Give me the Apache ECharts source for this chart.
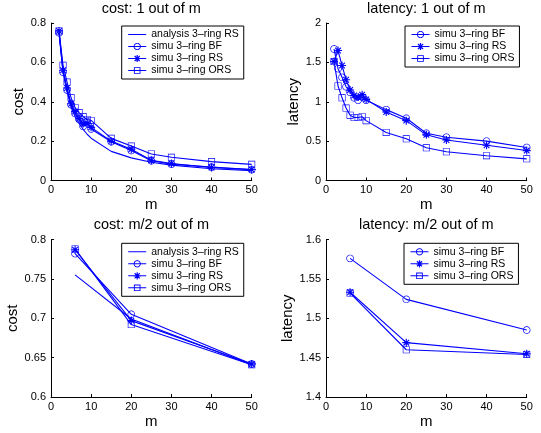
<!DOCTYPE html>
<html>
<head>
<meta charset="utf-8">
<script src="https://cdn.jsdelivr.net/npm/echarts@6/dist/echarts.min.js"></script>
<style>
  html, body { margin: 0; padding: 0; background: #fff; }
  #chart { width: 541px; height: 433px; }
</style>
</head>
<body>
<div id="chart"></div>
<script>
// Number of nodes m
const M_ALL = [2, 3, 4, 5, 6, 7, 8, 9, 10, 15, 20, 25, 30, 40, 50];
const M_HALF = [6, 20, 50];

// cost: 1 out of m
const COST1_ANALYSIS = [0.75, 0.55, 0.45, 0.375, 0.325, 0.29, 0.26, 0.235, 0.215, 0.148, 0.115, 0.093, 0.078, 0.06, 0.05];
const COST1_BF  = [0.75, 0.55, 0.46, 0.385, 0.34, 0.31, 0.275, 0.30, 0.262, 0.197, 0.152, 0.10, 0.083, 0.068, 0.055];
const COST1_RS  = [0.76, 0.56, 0.47, 0.39, 0.35, 0.315, 0.29, 0.29, 0.27, 0.20, 0.159, 0.103, 0.086, 0.066, 0.056];
const COST1_ORS = [0.76, 0.585, 0.50, 0.42, 0.37, 0.345, 0.325, 0.31, 0.305, 0.214, 0.175, 0.135, 0.118, 0.096, 0.082];

// latency: 1 out of m
const LAT1_BF  = [1.67, 1.42, 1.31, 1.19, 1.12, 1.05, 1.02, 1.06, 1.02, 0.90, 0.79, 0.60, 0.55, 0.50, 0.42];
const LAT1_RS  = [1.51, 1.65, 1.46, 1.28, 1.15, 1.08, 1.06, 1.09, 1.03, 0.87, 0.76, 0.58, 0.515, 0.447, 0.38];
const LAT1_ORS = [1.51, 1.20, 1.05, 0.92, 0.83, 0.80, 0.80, 0.81, 0.76, 0.61, 0.53, 0.415, 0.365, 0.315, 0.275];

// cost: m/2 out of m
const COSTH_ANALYSIS = [0.755, 0.699, 0.641];
const COSTH_BF  = [0.782, 0.705, 0.642];
const COSTH_RS  = [0.787, 0.697, 0.642];
const COSTH_ORS = [0.788, 0.692, 0.641];

// latency: m/2 out of m
const LATH_BF  = [1.576, 1.524, 1.485];
const LATH_RS  = [1.533, 1.469, 1.455];
const LATH_ORS = [1.532, 1.460, 1.454];

// Panel titles and series names
const TITLES = ['cost: 1 out of m', 'latency: 1 out of m', 'cost: m/2 out of m', 'latency: m/2 out of m'];
const NAME_AN  = 'analysis 3\u2013ring RS';
const NAME_BF  = 'simu 3\u2013ring BF';
const NAME_RS  = 'simu 3\u2013ring RS';
const NAME_ORS = 'simu 3\u2013ring ORS';

const BLUE = '#0000ff';
const FONT = '"Liberation Sans", Arial, Helvetica, sans-serif';

// ---- Marker outlines built as filled SVG paths (hollow markers, thin strokes) ----
function area(pts) {
  let s = 0;
  for (let i = 0; i < pts.length; i++) {
    const a = pts[i], b = pts[(i + 1) % pts.length];
    s += a[0] * b[1] - b[0] * a[1];
  }
  return s;
}
function poly(pts, sign) {
  if (Math.sign(area(pts)) !== sign) pts = pts.slice().reverse();
  return 'M' + pts.map(p => p[0].toFixed(3) + ',' + p[1].toFixed(3)).join('L') + 'Z';
}
function circlePts(cx, cy, r, n) {
  const pts = [];
  for (let k = 0; k < n; k++) {
    const t = 2 * Math.PI * k / n;
    pts.push([cx + r * Math.cos(t), cy + r * Math.sin(t)]);
  }
  return pts;
}
function rectPts(cx, cy, h) {
  return [[cx - h, cy - h], [cx + h, cy - h], [cx + h, cy + h], [cx - h, cy + h]];
}
function ringCircle(cx, cy, r, t) {
  return poly(circlePts(cx, cy, r, 36), 1) + poly(circlePts(cx, cy, r - t, 36), -1);
}
function ringSquare(cx, cy, h, t) {
  return poly(rectPts(cx, cy, h), 1) + poly(rectPts(cx, cy, h - t), -1);
}
function asterisk(cx, cy, L, w) {
  let d = '';
  [0, 45, 90, 135].forEach(deg => {
    const a = deg * Math.PI / 180;
    const dx = Math.cos(a), dy = Math.sin(a), nx = -dy, ny = dx;
    d += poly([
      [cx + L * dx + w * nx, cy + L * dy + w * ny],
      [cx + L * dx - w * nx, cy + L * dy - w * ny],
      [cx - L * dx - w * nx, cy - L * dy - w * ny],
      [cx - L * dx + w * nx, cy - L * dy + w * ny]
    ], 1);
  });
  return d;
}

// Plot markers (unit boxes, scaled by symbolSize)
const SYM_CIRCLE = 'path://' + ringCircle(0, 0, 4, 0.7);
const SYM_SQUARE = 'path://' + ringSquare(0, 0, 4, 0.7);
const SYM_STAR   = 'path://' + asterisk(0, 0, 5, 0.7);

// Legend icons: 18x9 box, line across the middle with the marker on top
const IW = 18, IH = 9;
const BOX = 'M0,0L0,0Z M' + IW + ',' + IH + 'L' + IW + ',' + IH + 'Z ';
const BAR = poly([[0, 4], [IW, 4], [IW, 5], [0, 5]], 1);
const ICONS = {};
ICONS[NAME_AN]  = 'path://' + BOX + BAR;
ICONS[NAME_BF]  = 'path://' + BOX + BAR + ringCircle(9, 4.5, 3.6, 0.9);
ICONS[NAME_RS]  = 'path://' + BOX + BAR + asterisk(9, 4.5, 3.6, 0.6);
ICONS[NAME_ORS] = 'path://' + BOX + BAR + ringSquare(9, 4.5, 3.3, 0.9);

const STYLE = {};
STYLE[NAME_AN]  = { symbol: 'none', symbolSize: 0 };
STYLE[NAME_BF]  = { symbol: SYM_CIRCLE, symbolSize: 7.5 };
STYLE[NAME_RS]  = { symbol: SYM_STAR, symbolSize: 8 };
STYLE[NAME_ORS] = { symbol: SYM_SQUARE, symbolSize: 7 };

const zip = (xs, ys) => xs.map((x, i) => [x, ys[i]]);

function line(name, idx, xs, ys) {
  const s = STYLE[name];
  return {
    type: 'line', name: name,
    xAxisIndex: idx, yAxisIndex: idx,
    data: zip(xs, ys),
    symbol: s.symbol, symbolSize: s.symbolSize,
    showSymbol: s.symbol !== 'none', showAllSymbol: true,
    lineStyle: { color: BLUE, width: 1.1 },
    itemStyle: { color: BLUE, borderWidth: 0 },
    emphasis: { disabled: true },
    animation: false
  };
}

// Grid geometry of the 2x2 panels
const LEFTS = [51, 326, 51, 326];
const TOPS = [23, 23, 239.5, 239.5];
const W = 200.7, H = 157.5;

const Y_RANGES = [
  { min: 0, max: 0.8, interval: 0.2, name: 'cost' },
  { min: 0, max: 2, interval: 0.5, name: 'latency' },
  { min: 0.6, max: 0.8, interval: 0.05, name: 'cost' },
  { min: 1.4, max: 1.6, interval: 0.05, name: 'latency' }
];

const axisCommon = {
  axisLine: { show: true, onZero: false, lineStyle: { color: '#000', width: 1 } },
  axisTick: { show: true, inside: true, length: 3, lineStyle: { color: '#000', width: 1 } },
  splitLine: { show: false },
  axisLabel: { color: '#000', fontFamily: FONT, fontSize: 11 },
  nameTextStyle: { color: '#000', fontFamily: FONT, fontSize: 15 }
};

const grids = [], xAxes = [], yAxes = [], titles = [], legends = [];
for (let i = 0; i < 4; i++) {
  grids.push({ left: LEFTS[i], top: TOPS[i], width: W, height: H, containLabel: false });
  xAxes.push(Object.assign({}, axisCommon, {
    type: 'value', gridIndex: i, min: 0, max: 50, interval: 10,
    name: 'm', nameLocation: 'middle', nameGap: 17,
    axisLabel: Object.assign({}, axisCommon.axisLabel, { margin: 4 })
  }));
  const yr = Y_RANGES[i];
  yAxes.push(Object.assign({}, axisCommon, {
    type: 'value', gridIndex: i, min: yr.min, max: yr.max, interval: yr.interval,
    name: yr.name, nameLocation: 'middle', nameGap: 23,
    axisLabel: Object.assign({}, axisCommon.axisLabel, { margin: 5 })
  }));
  titles.push({
    text: TITLES[i], left: LEFTS[i] + W / 2, textAlign: 'center',
    top: TOPS[i] - 22, padding: 0,
    textStyle: { color: '#000', fontFamily: FONT, fontSize: 14.5, fontWeight: 'normal' }
  });
}

const withAnalysis = [NAME_AN, NAME_BF, NAME_RS, NAME_ORS];
const simOnly = [NAME_BF, NAME_RS, NAME_ORS];
const LEGEND_POS = [[121.7, 26], [405, 26], [121.7, 243.3], [404, 243.3]];
const LEGEND_DATA = [withAnalysis, simOnly, withAnalysis, simOnly];
for (let i = 0; i < 4; i++) {
  legends.push({
    orient: 'vertical', left: LEGEND_POS[i][0], top: LEGEND_POS[i][1],
    data: LEGEND_DATA[i].map(n => ({ name: n, icon: ICONS[n] })),
    itemWidth: IW, itemHeight: IH, itemGap: 0,
    itemStyle: { borderWidth: 0 },
    padding: [2.5, 5, 2.5, 6.5],
    borderColor: '#000', borderWidth: 1, borderRadius: 0,
    backgroundColor: '#fff',
    selectedMode: false,
    textStyle: { color: '#000', fontFamily: FONT, fontSize: 10.5, lineHeight: 12 }
  });
}

const series = [
  line(NAME_AN, 0, M_ALL, COST1_ANALYSIS),
  line(NAME_BF, 0, M_ALL, COST1_BF),
  line(NAME_RS, 0, M_ALL, COST1_RS),
  line(NAME_ORS, 0, M_ALL, COST1_ORS),
  line(NAME_BF, 1, M_ALL, LAT1_BF),
  line(NAME_RS, 1, M_ALL, LAT1_RS),
  line(NAME_ORS, 1, M_ALL, LAT1_ORS),
  line(NAME_AN, 2, M_HALF, COSTH_ANALYSIS),
  line(NAME_BF, 2, M_HALF, COSTH_BF),
  line(NAME_RS, 2, M_HALF, COSTH_RS),
  line(NAME_ORS, 2, M_HALF, COSTH_ORS),
  line(NAME_BF, 3, M_HALF, LATH_BF),
  line(NAME_RS, 3, M_HALF, LATH_RS),
  line(NAME_ORS, 3, M_HALF, LATH_ORS)
];

const chart = echarts.init(document.getElementById('chart'), null, { renderer: 'canvas' });
chart.setOption({
  animation: false,
  backgroundColor: '#fff',
  title: titles,
  legend: legends,
  grid: grids,
  xAxis: xAxes,
  yAxis: yAxes,
  series: series
});
</script>
</body>
</html>
